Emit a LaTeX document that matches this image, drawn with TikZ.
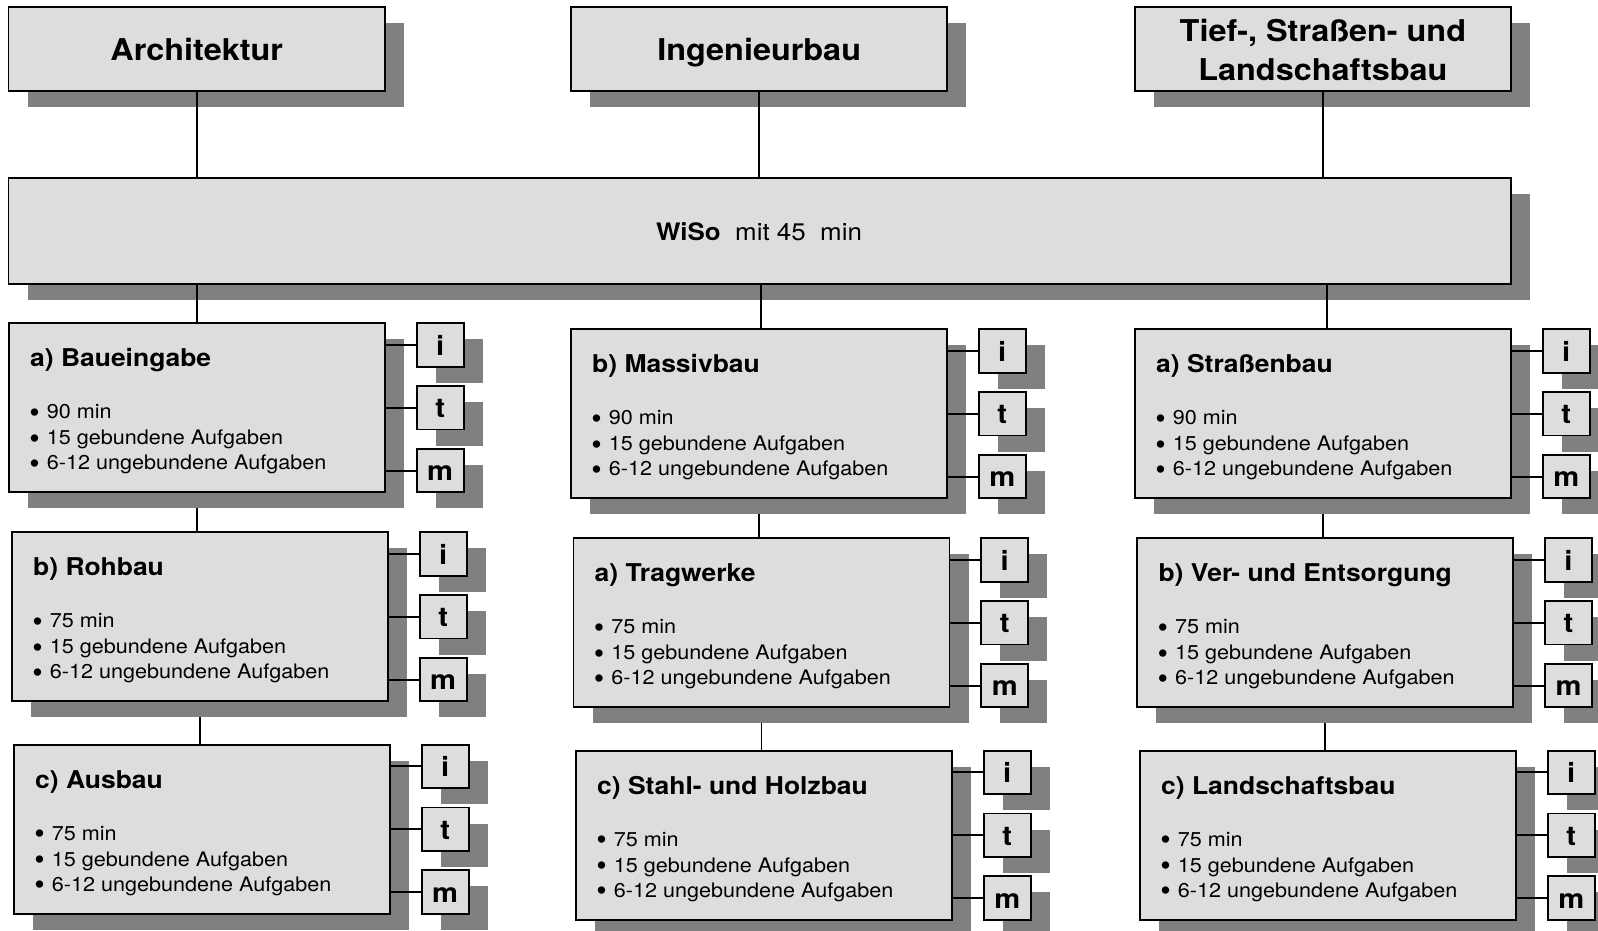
\documentclass[tikz,border=0pt]{standalone}
\usepackage{fontspec}
\setmainfont{TeX Gyre Heros}[FakeStretch=1.08]
\newfontfamily\bulletfont{Liberation Sans}
\usetikzlibrary{shadows,calc}
\pgfdeclarelayer{background}
\pgfsetlayers{background,main}
\definecolor{boxfill}{RGB}{221,221,221}
\definecolor{shadowgray}{RGB}{128,128,128}
\newcommand{\Bul}{\raisebox{-2.7pt}{\bulletfont\fontsize{27}{27}\selectfont •}\hspace{7.5pt}}
\tikzset{
  shbox/.style={draw=black, line width=1.9pt, fill=boxfill, rectangle, inner sep=0pt, outer sep=0pt,
    anchor=north west, drop shadow={shadow xshift=19pt, shadow yshift=-16pt, opacity=1, fill=shadowgray}},
  mainbox/.style={shbox, minimum width=376pt, minimum height=169pt},
  topbox/.style={shbox, minimum width=376.4pt, minimum height=84pt},
  letterbox/.style={shbox, minimum width=47pt, minimum height=43.4pt, text height=20pt, text depth=0pt,
    font=\fontsize{27}{30}\selectfont\bfseries},
  link/.style={line width=1.9pt, draw=black},
  toptext/.style={font=\fontsize{30}{36}\selectfont\bfseries, anchor=base, inner sep=0pt},
  titletext/.style={font=\fontsize{24.5}{29}\selectfont\bfseries, anchor=base west, inner sep=0pt},
  bullettext/.style={font=\fontsize{20}{25}\selectfont, anchor=base west, inner sep=0pt},
  wisotext/.style={font=\fontsize{24}{29}\selectfont, anchor=base, inner sep=0pt},
}
\newcommand{\SubBox}[5]{%
  \node[mainbox] (#1) at (#2,#3) {};
  \node[titletext] (#1-title) at ($(#1.north west)+(21,43.4)$) {#4};
  \node[bullettext] (#1-l1) at ($(#1.north west)+(20.7,95.3)$) {\Bul #5};
  \node[bullettext] (#1-l2) at ($(#1.north west)+(20.7,121.3)$) {\Bul 15 gebundene Aufgaben};
  \node[bullettext] (#1-l3) at ($(#1.north west)+(20.7,146.5)$) {\Bul 6-12 ungebundene Aufgaben};
  \node[letterbox] (#1-i) at ($(#1.north east)+(31.7,0)$) {i};
  \node[letterbox] (#1-t) at ($(#1.north east)+(31.7,62.8)$) {t};
  \node[letterbox] (#1-m) at ($(#1.north east)+(31.7,125.6)$) {m};
  \draw[link] (#1-i.west) -- (#1-i.west -| #1.east);
  \draw[link] (#1-t.west) -- (#1-t.west -| #1.east);
  \draw[link] (#1-m.west) -- (#1-m.west -| #1.east);
}
\begin{document}
\begin{tikzpicture}[x=1pt,y=-1pt]
\useasboundingbox (0,0) rectangle (1598,930);

% top boxes
\node[topbox] (arch) at (8.5,6.7) {};
\node[toptext] (arch-text) at ($(arch.north west)+(188.2,54)$) {Architektur};
\node[topbox] (ing) at (571,6.7) {};
\node[toptext] (ing-text) at ($(ing.north west)+(188.2,54)$) {Ingenieurbau};
\node[topbox] (tief) at (1134.7,6.7) {};
\node[toptext] (tief-text1) at ($(tief.north west)+(188.2,35)$) {Tief-, Straßen- und};
\node[toptext] (tief-text2) at ($(tief.north west)+(188.2,73.3)$) {Landschaftsbau};

% WiSo
\node[shbox, minimum width=1502.5pt, minimum height=106pt] (wiso) at (8.5,177.7) {};
\node[wisotext] (wiso-text) at ($(wiso.north west)+(750.5,63)$) {\textbf{WiSo}\ \ mit 45\ \ min};

\draw[link] (arch.south) -- (arch.south |- wiso.north);
\draw[link] (ing.south) -- (ing.south |- wiso.north);
\draw[link] (tief.south) -- (tief.south |- wiso.north);

% columns
\SubBox{a1}{9}{323.3}{a) Baueingabe}{90 min}
\SubBox{a2}{12}{532.3}{b) Rohbau}{75 min}
\SubBox{a3}{14}{744.7}{c) Ausbau}{75 min}
\SubBox{g1}{571}{329.3}{b) Massivbau}{90 min}
\SubBox{g2}{573.5}{538.3}{a) Tragwerke}{75 min}
\SubBox{g3}{576}{750.7}{c) Stahl- und Holzbau}{75 min}
\SubBox{s1}{1135}{329.3}{a) Straßenbau}{90 min}
\SubBox{s2}{1137.3}{538.3}{b) Ver- und Entsorgung}{75 min}
\SubBox{s3}{1140}{750.7}{c) Landschaftsbau}{75 min}

\draw[link] (a1.north |- wiso.south) -- (a1.north);
\draw[link] ($(g1.north |- wiso.south)+(2,0)$) -- ($(g1.north)+(2,0)$);
\draw[link] ($(s1.north |- wiso.south)+(4,0)$) -- ($(s1.north)+(4,0)$);

\begin{pgfonlayer}{background}
\draw[link] (a1.south) -- (a1.south |- a2.north);
\draw[link] (a2.south) -- (a2.south |- a3.north);
\draw[link] (g1.south) -- (g1.south |- g2.north);
\draw[link] (g2.south) -- (g2.south |- g3.north);
\draw[link] (s1.south) -- (s1.south |- s2.north);
\draw[link] (s2.south) -- (s2.south |- s3.north);
\end{pgfonlayer}
\end{tikzpicture}
\end{document}
